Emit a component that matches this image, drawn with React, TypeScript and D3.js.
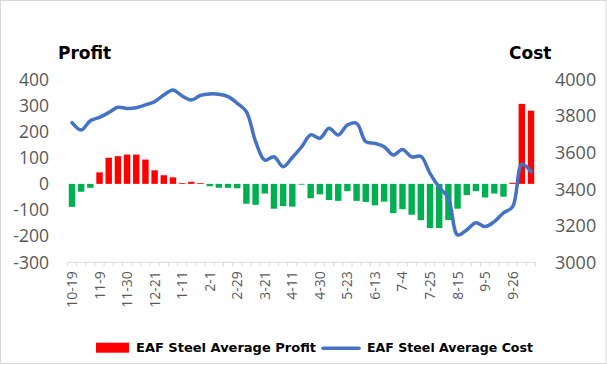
import React from "react";
import * as d3 from "d3";

const categories = [
  "10-19","10-26","11-2","11-9","11-16","11-23","11-30","12-7","12-14","12-21",
  "12-28","1-4","1-11","1-18","1-25","2-1","2-8","2-22","2-29","3-7",
  "3-14","3-21","3-28","4-4","4-11","4-18","4-25","4-30","5-9","5-16",
  "5-23","5-30","6-6","6-13","6-20","6-27","7-4","7-11","7-18","7-25",
  "8-1","8-8","8-15","8-22","8-29","9-5","9-12","9-19","9-26","10-10","10-17",
];

const profit = [
  -88, -30, -15, 44, 100, 106, 112, 112, 93, 52,
  33, 25, 3, 8, 3, -9, -15, -15, -17, -76,
  -80, -37, -95, -85, -87, -2, -55, -40, -62, -65,
  -28, -65, -69, -82, -68, -112, -97, -118, -139, -169,
  -169, -138, -95, -43, -28, -52, -37, -49, 4, 306, 280,
];

const cost = [
  3763, 3723, 3774, 3792, 3818, 3847, 3841, 3845, 3860, 3878,
  3914, 3942, 3909, 3887, 3912, 3920, 3918, 3905, 3869, 3823,
  3660, 3558, 3577, 3522, 3573, 3630, 3696, 3678, 3732, 3696,
  3750, 3760, 3659, 3650, 3632, 3586, 3617, 3576, 3579, 3486,
  3410, 3350, 3150, 3177, 3216, 3195, 3222, 3270, 3304, 3535, 3495,
];

const leftTicks = [-300, -200, -100, 0, 100, 200, 300, 400];
const rightTicks = [3000, 3200, 3400, 3600, 3800, 4000];

const W = 607;
const H = 365;

export default function App() {
  const x = d3
    .scaleBand<string>()
    .domain(categories)
    .range([67.4, 535.6])
    .paddingInner(0.3)
    .paddingOuter(0.15);
  const step = x.step();
  const yL = d3.scaleLinear().domain([-300, 400]).range([262.3, 79.3]);
  const yR = d3.scaleLinear().domain([3000, 4000]).range([262.3, 79.3]);

  const line = d3
    .line<number>()
    .x((_, i) => (x(categories[i]) as number) + x.bandwidth() / 2)
    .y((d) => yR(d))
    .curve(d3.curveCatmullRom.alpha(0.5));

  const axisY = yL(-300);
  const x0 = 67.4;
  const tickFont = "'Open Sans', sans-serif";
  const boldFont = "'DejaVu Sans', Verdana, sans-serif";

  return (
    <svg
      width={W}
      height={H}
      style={{ position: "absolute", left: 0, top: 0, background: "#fff" }}
    >
      <rect x={0.5} y={0.5} width={W - 1.5} height={H - 2} fill="#fff" stroke="#d9d9d9" />
      {/* titles */}
      <text x={58} y={59} fontFamily={boldFont} fontWeight="bold" fontSize={17} fill="#000">
        Profit
      </text>
      <text x={509} y={59} fontFamily={boldFont} fontWeight="bold" fontSize={17} fill="#000">
        Cost
      </text>
      {/* left ticks */}
      {leftTicks.map((t) => (
        <text
          key={"l" + t}
          x={49}
          y={yL(t) + 6.2}
          textAnchor="end"
          fontFamily={tickFont}
          fontSize={17.5}
          fill="#595959"
        >
          {t}
        </text>
      ))}
      {/* right ticks */}
      {rightTicks.map((t) => (
        <text
          key={"r" + t}
          x={555}
          y={yR(t) + 6.4}
          textAnchor="start"
          fontFamily={tickFont}
          fontSize={18}
          fill="#595959"
        >
          {t}
        </text>
      ))}
      {/* bars */}
      {profit.map((v, i) => (
        <rect
          key={"b" + i}
          x={x(categories[i]) as number}
          width={x.bandwidth()}
          y={v >= 0 ? yL(v) : yL(0)}
          height={Math.max(Math.abs(yL(v) - yL(0)), 0.8)}
          fill={v >= 0 ? "#ff0000" : "#00b050"}
        />
      ))}
      {/* x axis */}
      <line x1={x0} x2={x0 + step * categories.length} y1={axisY} y2={axisY} stroke="#d9d9d9" strokeWidth={1} />
      {d3.range(categories.length + 1).map((k) => (
        <line
          key={"t" + k}
          x1={x0 + k * step}
          x2={x0 + k * step}
          y1={axisY}
          y2={axisY + 4}
          stroke="#d9d9d9"
          strokeWidth={1}
        />
      ))}
      {categories.map((c, i) =>
        i % 3 === 0 ? (
          <text
            key={"x" + i}
            transform={`translate(${(x(c) as number) + x.bandwidth() / 2 + 5},${axisY + 9}) rotate(-90)`}
            textAnchor="end"
            fontFamily={tickFont}
            fontSize={14}
            fill="#595959"
          >
            {c}
          </text>
        ) : null
      )}
      {/* cost line */}
      <path d={line(cost) || ""} fill="none" stroke="#4472c4" strokeWidth={3.5} strokeLinecap="round" strokeLinejoin="round" />
      {/* legend */}
      <rect x={96} y={342.7} width={33} height={10} fill="#ff0000" />
      <text x={136} y={351.5} fontFamily={boldFont} fontWeight="bold" fontSize={12.8} fill="#000" textLength={180} lengthAdjust="spacingAndGlyphs">
        EAF Steel Average Profit
      </text>
      <line x1={323} x2={359} y1={348.3} y2={348.3} stroke="#4472c4" strokeWidth={3.5} strokeLinecap="round" />
      <text x={367} y={351.5} fontFamily={boldFont} fontWeight="bold" fontSize={12.8} fill="#000" textLength={166} lengthAdjust="spacingAndGlyphs">
        EAF Steel Average Cost
      </text>
    </svg>
  );
}
